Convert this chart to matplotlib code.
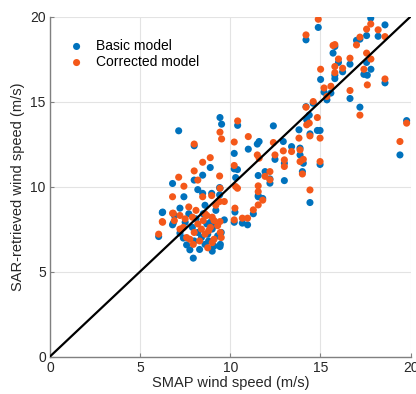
import matplotlib
matplotlib.use('Agg')
import matplotlib.pyplot as plt

plt.rcParams['font.family'] = ['Liberation Sans', 'DejaVu Sans']

# SMAP wind speed, basic-model retrieval, corrected-model retrieval (m/s)
smap = [14.88, 14.20, 17.79, 18.58, 17.56, 18.20, 17.19, 17.00, 15.70, 15.80,
        16.00, 16.64, 15.80, 15.80, 16.23, 15.01, 15.20, 15.58, 15.36, 17.56,
        17.80, 17.41, 17.60, 18.58, 16.64, 17.19, 14.20, 14.38, 14.24, 14.83,
        14.60, 19.41, 19.78, 14.98, 14.42, 13.81, 12.39, 12.94, 13.87, 13.40,
        13.87, 14.05, 13.00, 14.98, 14.00, 14.42, 13.00, 11.93, 12.20, 12.20,
        11.80, 9.43, 9.52, 10.41, 7.14, 8.00, 11.00, 11.50, 11.60, 10.22,
        10.22, 8.89, 8.47, 8.00, 8.20, 6.80, 7.43, 9.41, 10.30, 11.55,
        11.55, 8.97, 8.47, 9.41, 9.43, 11.55, 11.28, 10.96, 10.67, 10.22,
        10.26, 9.67, 9.43, 6.25, 6.03, 7.21, 6.80, 7.21, 7.58, 7.95,
        7.76, 7.40, 6.84, 8.20, 8.40, 8.60, 8.80, 9.00, 8.10, 8.50,
        8.70, 9.10, 9.30, 7.90, 8.30, 9.00, 8.90, 9.50, 7.70, 8.60,
        9.20, 8.00, 7.50, 6.90, 9.45, 8.75, 9.10, 6.23, 10.40, 12.48]
basic = [19.36, 18.63, 19.90, 19.51, 18.88, 18.84, 18.67, 18.60, 17.85, 18.24,
         17.30, 17.20, 16.55, 16.35, 16.75, 16.30, 15.55, 15.50, 15.10, 17.30,
         16.90, 16.60, 16.55, 16.10, 15.18, 14.67, 14.70, 14.20, 13.92, 13.30,
         14.90, 11.86, 13.88, 13.30, 13.10, 13.34, 13.57, 12.65, 12.26, 12.35,
         11.86, 11.37, 11.37, 11.30, 10.88, 9.06, 10.35, 10.88, 10.20, 10.45,
         9.30, 14.06, 13.67, 13.60, 13.28, 12.40, 12.20, 12.50, 12.65, 11.95,
         11.04, 11.12, 10.67, 10.38, 9.82, 10.18, 9.40, 9.94, 10.53, 10.65,
         9.47, 9.60, 9.60, 9.51, 9.90, 9.40, 8.40, 7.75, 7.85, 7.90,
         8.50, 8.04, 6.47, 8.50, 7.06, 8.73, 7.75, 7.26, 6.57, 5.79,
         6.28, 6.97, 7.85, 7.30, 7.00, 6.60, 6.80, 7.50, 8.10, 8.40,
         7.80, 6.50, 7.10, 7.60, 6.30, 6.20, 7.90, 7.30, 8.40, 8.90,
         8.60, 6.80, 7.90, 8.30, 6.60, 7.20, 7.70, 8.47, 11.00, 11.60]
corrected = [19.84, 18.92, 19.56, 18.82, 19.26, 19.22, 18.79, 18.33, 18.30, 18.35,
             17.50, 17.55, 17.06, 16.70, 16.96, 16.90, 15.80, 15.90, 15.30, 17.85,
             17.50, 16.90, 15.98, 16.33, 15.65, 14.20, 14.67, 13.73, 13.63, 14.06,
             15.00, 12.65, 13.73, 12.85, 12.98, 12.85, 12.59, 12.10, 12.16, 12.06,
             11.47, 11.60, 11.18, 11.47, 10.74, 9.80, 11.57, 10.60, 10.88, 10.40,
             9.20, 13.20, 12.80, 13.86, 10.55, 12.50, 12.94, 11.86, 11.67, 12.62,
             11.24, 11.70, 11.43, 10.92, 10.38, 9.40, 10.02, 10.62, 10.00, 10.04,
             9.70, 9.47, 9.40, 9.12, 9.90, 8.92, 8.63, 8.14, 8.14, 8.04,
             8.73, 9.12, 7.94, 7.90, 7.20, 8.30, 8.43, 7.50, 7.00, 6.60,
             6.90, 7.60, 8.43, 7.80, 7.50, 7.20, 7.40, 8.20, 8.60, 8.00,
             8.30, 6.90, 7.70, 8.20, 6.80, 6.70, 7.60, 7.00, 8.80, 8.40,
             8.90, 7.30, 8.10, 8.00, 7.30, 6.40, 8.00, 7.94, 9.90, 11.86]

blue = '#0072BD'
orange = '#F4581A'

fig = plt.figure(figsize=(4.16, 3.94), dpi=100)
ax = fig.add_axes([0.120, 0.095, 0.867, 0.863])

ax.scatter(smap, basic, s=26, color=blue, edgecolors='none', label='Basic model', zorder=3)
ax.scatter(smap, corrected, s=26, color=orange, edgecolors='none', label='Corrected model', zorder=4)
ax.plot([0, 20], [0, 20], color='black', lw=1.6, zorder=5)

ax.set_xlim(0, 20)
ax.set_ylim(0, 20)
ax.set_xticks([0, 5, 10, 15, 20])
ax.set_yticks([0, 5, 10, 15, 20])
ax.grid(True, color='#e3e3e3', lw=0.8)
ax.set_axisbelow(True)

for side in ['top', 'right']:
    ax.spines[side].set_visible(False)
for side in ['left', 'bottom']:
    ax.spines[side].set_color('#808080')
    ax.spines[side].set_linewidth(1.0)
ax.tick_params(direction='in', length=3, color='#808080', labelsize=10,
               labelcolor='#262626', pad=3)

ax.set_xlabel('SMAP wind speed (m/s)', fontsize=10.5, color='#262626', labelpad=1)
ax.set_ylabel('SAR-retrieved wind speed (m/s)', fontsize=10.5, color='#262626', labelpad=4)

ax.legend(loc='upper left', bbox_to_anchor=(0.02, 0.95), frameon=False, fontsize=10,
          handletextpad=0.4, labelspacing=0.15, markerscale=1.0, borderaxespad=0)

fig.savefig('out.png', dpi=100)
